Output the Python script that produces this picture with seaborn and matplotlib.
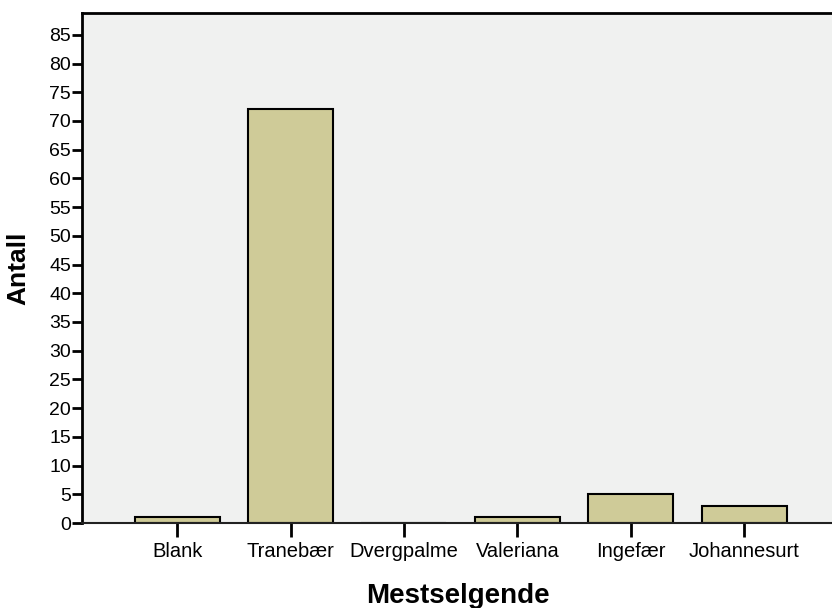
import matplotlib
matplotlib.use("Agg")
import matplotlib.pyplot as plt
import seaborn as sns
import pandas as pd

kategorier = ["Blank", "Tranebær", "Dvergpalme", "Valeriana", "Ingefær", "Johannesurt"]
antall = [1, 72, 0, 1, 5, 3]
y_ticks = list(range(0, 90, 5))

sns.set_style("white", {"xtick.bottom": True, "ytick.left": True,
                        "text.color": "black", "axes.labelcolor": "black",
                        "xtick.color": "black", "ytick.color": "black"})
plt.rcParams["font.family"] = ["Liberation Sans", "DejaVu Sans"]

df = pd.DataFrame({"Mestselgende": kategorier, "Antall": antall})

fig = plt.figure(figsize=(8.32, 6.08), dpi=100)
ax = fig.add_axes([82 / 832, 1 - 523 / 608, 1 - 82 / 832 + 0.002, (523 - 13) / 608])
ax.set_facecolor("#f0f1f0")

sns.barplot(data=df, x="Mestselgende", y="Antall", color="#cfcb98",
            width=0.75, edgecolor="black", linewidth=1.5, saturation=1, ax=ax)

ax.set_xlim(-0.84, 5.79)
ax.set_ylim(0, 88.8)
ax.set_yticks(y_ticks)
ax.tick_params(axis="y", left=True, length=7, width=2, color="black", labelsize=14, pad=1)
ax.tick_params(axis="x", bottom=True, length=10, width=2, color="black", labelsize=14.5, pad=4)

for s in ["left", "top"]:
    ax.spines[s].set_linewidth(2)
    ax.spines[s].set_color("black")
ax.spines["bottom"].set_linewidth(1.5)
ax.spines["bottom"].set_color("#222222")
ax.spines["right"].set_visible(False)

ax.set_ylabel("Antall", fontsize=19, fontweight="bold")
ax.set_xlabel("Mestselgende", fontsize=20, fontweight="bold")
ax.yaxis.set_label_coords(-0.069, 0.5)
ax.xaxis.set_label_coords(0.5, -0.118)

fig.savefig("out.png", dpi=100)
